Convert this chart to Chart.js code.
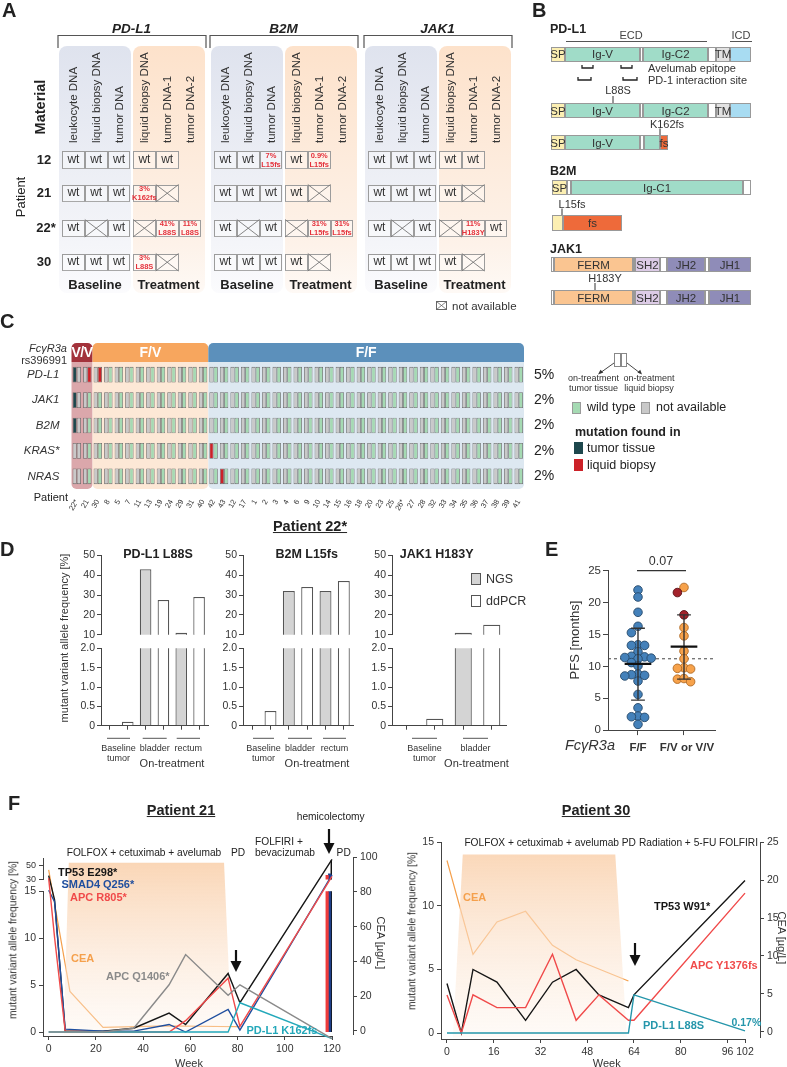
<!DOCTYPE html>
<html><head><meta charset="utf-8">
<script src="https://cdn.jsdelivr.net/npm/chart.js@4.4.1/dist/chart.umd.min.js"></script>
<style>
html,body{margin:0;padding:0;background:#fff;}
#root{position:relative;width:787px;height:1067px;overflow:hidden;font-family:"Liberation Sans",Arial,Helvetica,sans-serif;color:#222;background:#fff;}
.t{position:absolute;white-space:nowrap;line-height:1.1;z-index:4;}
canvas{position:absolute;z-index:2;}
.bx{position:absolute;box-sizing:border-box;}
svg.ov{position:absolute;left:0;top:0;z-index:3;pointer-events:none;}
</style></head><body><div id="root"></div>
<script>
// ================= DATA =================
// Panel A
const aGenes = ['PD-L1','B2M','JAK1'];
const aPatients = ['12','21','22*','30'];
const aBaselineCols = ['leukocyte DNA','liquid biopsy DNA','tumor DNA'];
const aTreatmentCols = ['liquid biopsy DNA','tumor DNA-1','tumor DNA-2'];
// 'wt' wild type, 'x' not available, '' no sample, 'pct|mutation'
const aPDL1 = [['wt','wt','wt','wt','wt',''],['wt','wt','wt','3%|K162fs','x',''],['wt','x','wt','x','41%|L88S','11%|L88S'],['wt','wt','wt','3%|L88S','x','']];
const aB2M  = [['wt','wt','7%|L15fs','wt','0.9%|L15fs',''],['wt','wt','wt','wt','x',''],['wt','x','wt','x','31%|L15fs','31%|L15fs'],['wt','wt','wt','wt','x','']];
const aJAK1 = [['wt','wt','wt','wt','wt',''],['wt','wt','wt','wt','x',''],['wt','x','wt','x','11%|H183Y','wt'],['wt','wt','wt','wt','x','']];

// Panel C
const cPatients = ['22*','21','30','8','5','7','11','13','19','24','29','31','40','42','43','12','17','1','2','3','4','6','9','10','14','15','16','18','20','23','25','26*','27','28','32','33','34','35','36','37','38','39','41'];
const cGenotypes = ['V/V','F/V','F/F'];
const cGenotypeCounts = [2, 11, 30];
const cGenes = ['PD-L1','JAK1','B2M','KRAS*','NRAS'];
const cFreq = ['5%','2%','2%','2%','2%'];
// w = wild type, n = not available, t = mutation in tumor tissue, l = mutation in liquid biopsy
const cTissue = [
 't' + 'n'.repeat(42),
 't' + 'n'.repeat(42),
 't' + 'n'.repeat(42),
 'n'.repeat(13) + 'l' + 'n'.repeat(29),
 'n'.repeat(14) + 'l' + 'n'.repeat(28)];
const cLiquid = [
 'nll' + 'w'.repeat(40),
 'n' + 'w'.repeat(42),
 'n' + 'w'.repeat(42),
 'n' + 'w'.repeat(42),
 'n' + 'w'.repeat(42)];

// Panel D
const dCats3 = ['Baseline tumor','bladder','rectum'];
const dCats2 = ['Baseline tumor','bladder'];
const dPDL1NGS = [0, 43, 11],   dPDL1ddPCR = [0.1, 27.5, 29];
const dB2MNGS  = [0, 32, 32],   dB2MddPCR  = [0.38, 34, 37];
const dJAK1NGS = [0, 11],       dJAK1ddPCR = [0.18, 15];

// Panel E (PFS, months)
const eFF = [22.0,20.9,18.5,16.3,15.3,13.4,13.3,13.3,12.3,11.6,11.5,11.4,11.3,11.2,10.6,10.1,8.8,8.7,8.6,8.5,7.7,5.6,3.5,2.2,2.1,2.0,0.9];
const eFV = [22.4,16.1,14.8,12.4,11.2,9.8,9.6,9.7,8.0,8.1,7.6];
const eVV = [21.6,18.1];
const eMean = [10.4,13.1], eSDlow = [4.7,8.0], eSDhigh = [16.0,18.1];
const eRefLine = 11.2;

// Panel F – Patient 21
const p21Weeks   = [0, 2.5, 7, 23, 36, 51, 58, 76, 81, 120];
const p21TP53    = [37, 14, 0.1, 0.1, 0.4, 2.0, 0.8, 6.2, 3.1, 57];
const p21SMAD4   = [15, 13.8, 0.3, 0.1, 0.1, 0.8, 0.0, 2.4, 0.2, 38];
const p21APCR805 = [34, 10, 0.1, 0.0, 0.0, 0.0, 1.2, 5.7, 0.6, 36];
const p21APCQ1406= [0, 0, 0, 0, 0.4, 5.0, 8.2, 3.9, 5.0, -0.7];
const p21PDL1    = [0, 0, 0, 0, 0, 0, 0, 0, 3.1, -0.7];
const p21TissueWeek = 119, p21TissueVAF = [36, 38, 57]; // APC R805*, SMAD4, TP53
const p21CEAWeeks = [0, 9, 23, 50, 81];
const p21CEA      = [92.8, 22.7, 1.9, 2.8, 2.3];
const p21TreatWeeks = [6.3, 8.5, 74.2, 77.4];
// Panel F – Patient 30
const p30Weeks = [0, 4.9, 8.9, 17.1, 26.9, 36.1, 44.2, 52, 62.1, 64, 102];
const p30TP53  = [3.9, 0, 5.0, 4.0, 1.0, 4.0, 5.0, 3.0, 2.0, 3.0, 12.0];
const p30APC   = [3.0, 0, 3.0, 2.0, 2.0, 6.2, 1.0, 3.0, 1.0, 1.0, 11.0];
const p30PDL1  = [0, 0, 0, 0, 0, 0, 0, 0, 0, 3.0, 0.17];
const p30CEAWeeks = [0, 8.9, 17.1, 26.9, 36.1, 44.2, 62.1];
const p30CEA      = [22.6, 10.2, 14.5, 15.9, 11.4, 9.5, 6.7];
const p30TreatWeeks = [2.0, 5.4, 57.6, 61.6];

// ================= HELPERS =================
const root = document.getElementById('root');
Chart.defaults.font.family = '"Liberation Sans", Arial, sans-serif';
Chart.defaults.color = '#333';
// piecewise (broken) value axis for Patient 21: [value from, value to, fraction from, fraction to]
const P21_PIECES = [[-0.42,15,0,0.8140],[15,30,0.8140,0.8642],[30,60,0.8642,1]];
class BrokenScale extends Chart.LinearScale {
  getPixelForValue(v){ if(v===null||v===undefined||isNaN(v)) return NaN;
    let p=P21_PIECES[0]; for(const q of P21_PIECES){ if(v>=q[0]) p=q; }
    const f=p[2]+(v-p[0])/(p[1]-p[0])*(p[3]-p[2]); return this.bottom-f*(this.bottom-this.top); }
  getValueForPixel(px){ const f=(this.bottom-px)/(this.bottom-this.top);
    let p=P21_PIECES[0]; for(const q of P21_PIECES){ if(f>=q[2]) p=q; }
    return p[0]+(f-p[2])/(p[3]-p[2])*(p[1]-p[0]); }
}
BrokenScale.id='broken'; BrokenScale.defaults=Chart.LinearScale.defaults;
Chart.register(BrokenScale);

const NS = 'http://www.w3.org/2000/svg';
const svg = document.createElementNS(NS,'svg');
svg.setAttribute('width',787); svg.setAttribute('height',1067); svg.setAttribute('class','ov');
root.appendChild(svg);
function S(tag, at){ const e=document.createElementNS(NS,tag); for(const k in at) e.setAttribute(k,at[k]); svg.appendChild(e); return e; }
function ln(x1,y1,x2,y2,c,w,extra){ return S('line',Object.assign({x1,y1,x2,y2,stroke:c||'#444','stroke-width':w||1},extra||{})); }
function T(s,x,y,o){ o=o||{}; const d=document.createElement('div'); d.className='t';
  if(o.html) d.innerHTML=s; else d.textContent=s;
  d.style.left=x+'px'; d.style.top=y+'px'; d.style.fontSize=(o.size||11)+'px';
  if(o.bold) d.style.fontWeight='bold'; if(o.italic) d.style.fontStyle='italic';
  d.style.color=o.color||'#222'; if(o.family) d.style.fontFamily=o.family;
  if(o.u) d.style.textDecoration='underline'; if(o.lh) d.style.lineHeight=o.lh;
  if(o.center) d.style.textAlign='center'; if(o.ls) d.style.letterSpacing=o.ls;
  const a=o.a||'c'; const tx=a==='l'?'0':a==='r'?'-100%':'-50%';
  d.style.transform=`translate(${tx},-50%)`+(o.rot?` rotate(${o.rot}deg)`:'');
  root.appendChild(d); return d; }
function Tup(s,x,yBottom,o){ o=o||{}; const d=document.createElement('div'); d.className='t'; d.textContent=s;
  d.style.left=x+'px'; d.style.top=yBottom+'px'; d.style.fontSize=(o.size||11)+'px'; d.style.color=o.color||'#333';
  d.style.transformOrigin='0 0'; d.style.transform='rotate(-90deg) translateY(-50%)'; root.appendChild(d); return d; }
function box(x,y,w,h,st){ const d=document.createElement('div'); d.className='bx';
  d.style.cssText+=`left:${x}px;top:${y}px;width:${w}px;height:${h}px;`+(st||''); root.appendChild(d); return d; }
function arrowDown(x,y1,y2){ ln(x,y1,x,y2-8,'#111',2.2); S('polygon',{points:`${x-5.5},${y2-11} ${x+5.5},${y2-11} ${x},${y2}`,fill:'#111'}); }

function makeChart(L,T0,R,B,m,config){
  const x0=L-m.l, y0=T0-m.t, w=Math.round(R-L+m.l+m.r), h=Math.round(B-T0+m.t+m.b);
  const cv=document.createElement('canvas'); cv.width=w; cv.height=h;
  cv.style.left=x0+'px'; cv.style.top=y0+'px'; cv.style.width=w+'px'; cv.style.height=h+'px';
  if(m.z) cv.style.zIndex=m.z;
  root.appendChild(cv);
  const sc=config.options.scales; const used={left:false,right:false,bottom:false};
  for(const k in sc){ const s=sc[k]; if(s.display===false) continue;
    const isX=(s.axis||k[0])==='x'; const pos=s.position||(isX?'bottom':'left'); used[pos]=true;
    if(pos==='left') s.afterFit=q=>{q.width=m.l;};
    if(pos==='right') s.afterFit=q=>{q.width=m.r;};
    if(pos==='bottom') s.afterFit=q=>{q.height=m.b;};
  }
  config.options.layout={padding:{left:used.left?0:m.l,right:used.right?0:m.r,top:m.t,bottom:used.bottom?0:m.b}};
  config.options.responsive=false; config.options.animation=false; config.options.devicePixelRatio=1;
  config.options.maintainAspectRatio=false;
  config.options.plugins=Object.assign({legend:{display:false},tooltip:{enabled:false}},config.options.plugins||{});
  return new Chart(cv,config);
}
const tk = arr => (s=>{ s.ticks = arr.map(v=>({value:v})); });
const axGrid = (len)=>({display:true,drawOnChartArea:false,drawTicks:true,tickLength:len||4,color:'#444',lineWidth:1,offset:false});
const axBorder = {display:true,color:'#444',width:1};
const GAP = {x:null,y:null};

// ================= PANEL A =================
T('A',2,10,{size:20,bold:true,a:'l'});
const aGroupX=[62,214,368], aCW=22.8, aRowY=[151,184.5,219.5,253.5], aRowH=17.5;
const aData=[aPDL1,aB2M,aJAK1];
aGenes.forEach((g,gi)=>{
  const gx=aGroupX[gi];
  box(gx-3,46,72,247,'border-radius:8px;background:linear-gradient(#dfe3ee,#f4f5f9 80%,#fbfbfd);z-index:0;');
  box(gx+71,46,71.5,247,'border-radius:8px;background:linear-gradient(#fde2cb,#fdf2e9 80%,#fef9f5);z-index:0;');
  T(g,gx+69.5,29,{size:13.5,bold:true,italic:true});
  S('path',{d:`M${gx-4},48 V35.5 H${gx+144} V48`,fill:'none',stroke:'#555','stroke-width':1.2});
  aBaselineCols.forEach((c,i)=>Tup(c,gx+aCW*(i+0.5),143,{size:11.5}));
  aTreatmentCols.forEach((c,i)=>Tup(c,gx+71+aCW*(i+0.5),143,{size:11.5}));
  T('Baseline',gx+33,285,{size:13,bold:true});
  T('Treatment',gx+106.5,285,{size:13,bold:true});
  aData[gi].forEach((row,ri)=>{
    row.forEach((code,ci)=>{
      if(code==='') return;
      const x=ci<3?gx+ci*aCW:gx+71+(ci-3)*aCW, y=aRowY[ri];
      box(x,y,aCW,aRowH,'border:1px solid #9c9c9c;border-bottom:1.5px solid #a8a8a8;background:rgba(255,255,255,0.35);z-index:1;');
      if(code==='wt') T('wt',x+aCW/2,y+aRowH/2,{size:12,color:'#333'});
      else if(code==='x'){ ln(x,y,x+aCW,y+aRowH,'#777',0.9); ln(x,y+aRowH,x+aCW,y,'#777',0.9); }
      else { const [p,mu]=code.split('|'); T(p,x+aCW/2,y+4.5,{size:7.5,bold:true,color:'#e4313b'}); T(mu,x+aCW/2,y+aRowH-4,{size:7.5,bold:true,color:'#e4313b'}); }
    });
  });
});
T('Material',41,107,{size:14.5,bold:true,rot:-90});
T('Patient',21,197,{size:13,rot:-90});
aPatients.forEach((p,i)=>T(p,p.length>2?46:44,aRowY[i]+aRowH/2,{size:13,bold:true}));
box(436,301,11,9,'border:1px solid #666;z-index:1;'); ln(436.5,301.5,446.5,309.5,'#666',0.8); ln(436.5,309.5,446.5,301.5,'#666',0.8);
T('not available',452,305.5,{size:11.5,a:'l',color:'#333'});

// ================= PANEL B =================
T('B',532,10,{size:20,bold:true,a:'l'});
const narrow='"Liberation Sans Narrow","Arial Narrow","Liberation Sans",sans-serif';
function dom(y,h,segs){ segs.forEach(s=>{ box(s[0],y,s[1]-s[0],h,`background:${s[2]};border:1px solid #999;z-index:1;`); if(s[3]) T(s[3],(s[0]+s[1])/2,y+h/2,{size:11.5,family:narrow,color:'#333'}); }); }
const sp='#fcefb2', ig='#a0dcc8', fs='#ee6a3a';
T('PD-L1',550,30,{size:12.5,bold:true,a:'l'});
T('ECD',631,35,{size:11,family:narrow,color:'#444'}); ln(566,41.5,707,41.5,'#555',1);
T('ICD',741,35,{size:11,family:narrow,color:'#444'}); ln(730,41.5,752,41.5,'#555',1);
const pdl1Full=[[551,565,sp,'SP'],[565,640,ig,'Ig-V'],[640,643,'#fff',''],[643,708,ig,'Ig-C2'],[708,716,'#fff',''],[716,730,'#e2e2e2','TM'],[730,751,'#a8dcf2','']];
dom(46.7,15,pdl1Full);
[[582,593,68],[621,632,68],[578,591,80],[623,637,80]].forEach(b=>S('path',{d:`M${b[0]},${b[2]-3} V${b[2]} H${b[1]} V${b[2]-3}`,fill:'none',stroke:'#222','stroke-width':1.3}));
T('Avelumab epitope',648,68,{size:11,family:narrow,a:'l',color:'#333'});
T('PD-1 interaction site',648,80,{size:11,family:narrow,a:'l',color:'#333'});
T('L88S',618,90,{size:11,family:narrow,color:'#333'}); ln(613,96,613,103,'#333',1);
dom(103,15,pdl1Full);
T('K162fs',667,124,{size:11,family:narrow,color:'#333'}); ln(660,128.5,660,135,'#333',1);
dom(135,15,[[551,565,sp,'SP'],[565,640,ig,'Ig-V'],[640,644,'#fff',''],[644,660,ig,''],[660,668,fs,'fs']]);
T('B2M',550,172,{size:12.5,bold:true,a:'l'});
dom(180,15,[[552,567,sp,'SP'],[567,571,'#fff',''],[571,743,ig,'Ig-C1'],[743,751,'#fff','']]);
T('L15fs',572,204,{size:11,family:narrow,color:'#333'}); ln(562,208.5,562,215,'#333',1);
dom(215,16,[[552,563,sp,''],[563,622,fs,'fs']]);
T('JAK1',550,250,{size:12.5,bold:true,a:'l'});
const jak=[[551,554,'#fff',''],[554,633,'#fac591','FERM'],[633,635,'#fff',''],[635,660,'#dccbe6','SH2'],[660,667,'#fff',''],[667,705,'#8f8cb8','JH2'],[705,709,'#fff',''],[709,751,'#8f8cb8','JH1']];
dom(257,15,jak);
T('H183Y',605,278,{size:11,family:narrow,color:'#333'}); ln(595,283,595,290,'#333',1);
dom(290,15,jak);

// ================= PANEL C =================
T('C',0,321,{size:20,bold:true,a:'l'});
const cCol={w:'#a5dab3',n:'#c9c9c9',t:'#1d474d',l:'#cc2128'};
const cGroupCol=['#a3323b','#f7a65e','#5c90bb'], cBandCol=['#dba7ab','#fde8d6','#dde8f1'];
const cBandPlugin={id:'bands',beforeDatasetsDraw(ch){
  const x=ch.scales.x, ca=ch.chartArea, c=ch.ctx; const half=(x.getPixelForValue(1)-x.getPixelForValue(0))/2;
  let s=0; cGenotypeCounts.forEach((n,gi)=>{ const l=x.getPixelForValue(s)-half, r=x.getPixelForValue(s+n-1)+half;
    c.save(); c.fillStyle=cBandCol[gi]; c.beginPath(); c.roundRect(l,ca.top,r-l,ca.bottom-ca.top,[0,0,5,5]); c.fill();
    c.fillStyle=cGroupCol[gi]; c.beginPath(); c.roundRect(l,ca.top-19,r-l,19,[5,5,0,0]); c.fill(); c.restore(); s+=n; });
}};
const cDatasets=[];
cGenes.forEach((g,r)=>{
  [['tissue',cTissue[r]],['liquid',cLiquid[r]]].forEach(([stack,str])=>{
    cDatasets.push({type:'bar',stack,data:cPatients.map(()=>[r-0.31,r+0.31]),
      backgroundColor:str.split('').map(ch=>cCol[ch]),borderColor:'#6a6a6a',borderWidth:0.8,borderSkipped:false,
      categoryPercentage:0.8,barPercentage:1,clip:0});
  });
});
const cChart=makeChart(71.5,361.7,523.5,488.7,{l:71.5,r:45,t:22,b:30},{type:'bar',data:{labels:cPatients,datasets:cDatasets},
  options:{scales:{
    x:{stacked:true,grid:{display:false},border:{display:false},ticks:{font:{size:7.5},color:'#333',minRotation:60,maxRotation:60,autoSkip:false,padding:1}},
    y:{stacked:false,min:-0.5,max:4.5,reverse:true,afterBuildTicks:tk([0,1,2,3,4]),grid:{display:false},border:{display:false},
       ticks:{callback:v=>cGenes[v],font:{size:11.5,style:'italic'},color:'#333',padding:4}},
    y2:{axis:'y',position:'right',min:-0.5,max:4.5,reverse:true,afterBuildTicks:tk([0,1,2,3,4]),grid:{display:false},border:{display:false},
       ticks:{callback:v=>cFreq[v],font:{size:14},color:'#222',padding:2}}
  }},plugins:[cBandPlugin]});
(function(){ const x=cChart.scales.x; const half=(x.getPixelForValue(1)-x.getPixelForValue(0))/2; let s=0;
  cGenotypeCounts.forEach((n,gi)=>{ const l=x.getPixelForValue(s)-half, r=x.getPixelForValue(s+n-1)+half;
    T(cGenotypes[gi],(l+r)/2,352.5,{size:14,bold:true,color:'#fff',ls:gi===0?'-0.5px':'0'}); s+=n; }); })();
T('Fc\u03b3R3a',67,348,{size:11,italic:true,a:'r',color:'#333'});
T('rs396991',67,360,{size:11,a:'r',color:'#333'});
T('Patient',68,497,{size:11,a:'r',color:'#222'});
// legend
box(614,353,6.5,14,'border:1px solid #888;background:#fff;z-index:1;'); box(620.5,353,6.5,14,'border:1px solid #888;background:#fff;z-index:1;');
ln(614,363,600,373,'#333',0.9); S('polygon',{points:'598,374.5 600.5,369.8 603.3,372.6',fill:'#333'});
ln(627,363,640,373,'#333',0.9); S('polygon',{points:'642,374.5 637.5,372.6 640.2,369.8',fill:'#333'});
T('on-treatment',593.5,379,{size:9,family:narrow,color:'#333'}); T('tumor tissue',593.5,389,{size:9,family:narrow,color:'#333'});
T('on-treatment',649,379,{size:9,family:narrow,color:'#333'}); T('liquid biopsy',649,389,{size:9,family:narrow,color:'#333'});
box(572,402,9,12,`background:${cCol.w};border:1px solid #9a9a9a;`); T('wild type',587,408,{size:12.5,a:'l',color:'#222'});
box(641,402,9,12,`background:${cCol.n};border:1px solid #9a9a9a;`); T('not available',656,408,{size:12.5,a:'l',color:'#222'});
T('mutation found in',575,433,{size:12.5,bold:true,a:'l'});
box(574,442,9,12,`background:${cCol.t};`); T('tumor tissue',587,449,{size:12.5,a:'l'});
box(574,459,9,12,`background:${cCol.l};`); T('liquid biopsy',587,465.5,{size:12.5,a:'l'});

// ================= PANEL D =================
T('D',0,549,{size:20,bold:true,a:'l'});
T('Patient 22*',310,527,{size:14.5,bold:true,u:true});
function dPanel(cats,ngs,dd,L,R,bp){
  const labels=[],nD=[],dD=[]; cats.forEach((c,i)=>{labels.push(c,c); nD.push(ngs[i],null); dD.push(null,dd[i]);});
  const ds=()=>[{label:'NGS',data:nD.slice(),backgroundColor:'#d4d4d4',borderColor:'#555',borderWidth:1.2,grouped:false,barPercentage:bp,categoryPercentage:1,clip:0},
                {label:'ddPCR',data:dD.slice(),backgroundColor:'#fff',borderColor:'#555',borderWidth:1.2,grouped:false,barPercentage:bp,categoryPercentage:1,clip:0}];
  const yt={font:{size:10.5},color:'#333',padding:2};
  makeChart(L,555,R,639,{l:24,r:4,t:8,b:4},{type:'bar',data:{labels,datasets:ds()},options:{scales:{
    x:{display:false},
    y:{min:10,max:50,afterBuildTicks:tk([10,20,30,40,50]),grid:axGrid(4),border:axBorder,ticks:yt}}}});
  makeChart(L,648,R,728,{l:24,r:4,t:8,b:6},{type:'bar',data:{labels,datasets:ds()},options:{scales:{
    x:{grid:axGrid(4),border:axBorder,ticks:{callback:()=>'' ,autoSkip:false}},
    y:{min:0,max:2,afterBuildTicks:tk([0,0.5,1,1.5,2]),grid:axGrid(4),border:axBorder,ticks:Object.assign({callback:v=>v===0?'0':v.toFixed(1)},yt)}}}});
}
dPanel(dCats3,dPDL1NGS,dPDL1ddPCR,100.7,208,0.65);
dPanel(dCats3,dB2MNGS,dB2MddPCR,243,353,0.65);
dPanel(dCats2,dJAK1NGS,dJAK1ddPCR,392,506,0.6);
T('PD-L1 L88S',158,555,{size:12.5,bold:true});
T('B2M L15fs',306.7,555,{size:12.5,bold:true});
T('JAK1 H183Y',436.7,555,{size:12.5,bold:true});
box(471,573,9.5,12,'background:#d4d4d4;border:1px solid #555;'); T('NGS',486,579.5,{size:12.5,a:'l',color:'#333'});
box(471,595,9.5,12,'background:#fff;border:1px solid #555;'); T('ddPCR',486,601.5,{size:12.5,a:'l',color:'#333'});
T('mutant variant allele frequency [%]',64,638,{size:11,rot:-90,color:'#333'});
function dLab(items,onT){ items.forEach(it=>{ ln(it[0],738.3,it[1],738.3,'#555',1); T(it[2],(it[0]+it[1])/2,it[3]||748.3,{size:9,html:true,center:true,lh:'10px',color:'#333'}); });
  T('On-treatment',onT,763,{size:11,color:'#333'}); }
dLab([[107,130,'Baseline<br>tumor',753],[142.7,166.7,'bladder'],[176.7,200,'rectum']],172);
dLab([[253,274,'Baseline<br>tumor',753],[288,312,'bladder'],[323,346,'rectum']],317);
dLab([[412,437,'Baseline<br>tumor',753],[463,488,'bladder']],476.5);

// ================= PANEL E =================
T('E',545,549,{size:20,bold:true,a:'l'});
function swarmX(vals,center,pxY,pxX,step,minD,maxK){
  const idx=vals.map((v,i)=>i).sort((a,b)=>vals[b]-vals[a]); const placed=[],res=new Array(vals.length);
  for(const i of idx){ const py=vals[i]*pxY; let best=0,bestD=-1;
    const cands=[0]; for(let k=1;k<=maxK;k++) cands.push(-k*step,k*step);
    for(const c of cands){ const d=placed.length?Math.min(...placed.map(p=>Math.hypot(p.x-c,p.y-py))):Infinity;
      if(d>=minD){best=c;bestD=d;break;} if(d>bestD){bestD=d;best=c;} }
    placed.push({x:best,y:py}); res[i]=center+best/pxX; }
  return res; }
const eFVall=eFV.concat(eVV);
const ffX=swarmX(eFF,1,6.42,46,6.6,6.6,2), fvX=swarmX(eFVall,2,6.42,46,6.6,6.6,2);
const eXmin=0.348, eXmax=2.674;
makeChart(608,570,715,730.7,{l:30,r:10,t:8,b:8},{type:'scatter',data:{datasets:[
  {data:eFF.map((v,i)=>({x:ffX[i],y:v})),pointRadius:4.3,pointBackgroundColor:'#4481ba',pointBorderColor:'#27496a',pointBorderWidth:0.9,order:3,clip:false},
  {data:eFVall.map((v,i)=>({x:fvX[i],y:v})),pointRadius:4.3,pointBackgroundColor:eFVall.map((v,i)=>i<eFV.length?'#f7a24b':'#a3222b'),
   pointBorderColor:eFVall.map((v,i)=>i<eFV.length?'#b06a25':'#5a1014'),pointBorderWidth:0.9,order:3,clip:false},
  {type:'line',data:[{x:eXmin,y:eRefLine},{x:eXmax,y:eRefLine}],borderColor:'#444',borderWidth:1,borderDash:[3,3],pointRadius:0,order:4},
  {type:'line',data:[{x:1,y:eSDlow[0]},{x:1,y:eSDhigh[0]},GAP,{x:2,y:eSDlow[1]},{x:2,y:eSDhigh[1]}],borderColor:'#333',borderWidth:1.4,pointRadius:0,spanGaps:false,order:1},
  {type:'line',data:[{x:0.85,y:eSDhigh[0]},{x:1.15,y:eSDhigh[0]},GAP,{x:0.85,y:eSDlow[0]},{x:1.15,y:eSDlow[0]},GAP,{x:1.85,y:eSDhigh[1]},{x:2.15,y:eSDhigh[1]},GAP,{x:1.85,y:eSDlow[1]},{x:2.15,y:eSDlow[1]}],borderColor:'#333',borderWidth:1.4,pointRadius:0,spanGaps:false,order:1},
  {type:'line',data:[{x:0.71,y:eMean[0]},{x:1.29,y:eMean[0]},GAP,{x:1.71,y:eMean[1]},{x:2.29,y:eMean[1]}],borderColor:'#111',borderWidth:2.2,pointRadius:0,spanGaps:false,order:0}
]},options:{scales:{
  x:{type:'linear',offset:false,min:eXmin,max:eXmax,afterBuildTicks:tk([1,2]),grid:axGrid(5),border:axBorder,ticks:{callback:()=>'',autoSkip:false}},
  y:{min:0,max:25,afterBuildTicks:tk([0,5,10,15,20,25]),grid:axGrid(5),border:axBorder,ticks:{font:{size:11.5},color:'#333',padding:2}}}}});
ln(637,570.7,686,570.7,'#333',1.2);
T('0.07',661,562,{size:12.5,color:'#333'});
T('PFS [months]',575,640,{size:13,rot:-90,color:'#333'});
T('F/F',638,747,{size:11.5,bold:true,color:'#333'});
T('F/V or V/V',687,747,{size:11.5,bold:true,color:'#333'});
T('Fc\u03b3R3a',590,746,{size:14.5,italic:true,color:'#333'});

// ================= PANEL F =================
T('F',8,803,{size:20,bold:true,a:'l'});
T('Patient 21',181,811,{size:14.5,bold:true,u:true});
T('Patient 30',596,811,{size:14.5,bold:true,u:true});
function gradFill(ctx){ const ch=ctx.chart, ca=ch.chartArea; if(!ca) return 'rgba(250,210,175,0.6)';
  const g=ch.ctx.createLinearGradient(0,ca.top,0,ca.bottom); g.addColorStop(0,'rgba(249,205,166,0.85)'); g.addColorStop(1,'rgba(253,242,233,0.35)'); return g; }
const pts=(xs,ys)=>xs.map((x,i)=>({x,y:ys[i]}));
const lineDs=(xs,ys,color,clip,w)=>({type:'line',data:pts(xs,ys),borderColor:color,borderWidth:w||1.4,pointRadius:0,tension:0,clip});
const fTick={font:{size:10.5},color:'#333',padding:3};
// Patient 21 overlay (CEA + treatment period)
const p21Cmin=-2.27, p21Xmax2=128.76;
makeChart(42.7,855.7,352.7,1035.7,{l:32,r:30,t:8,b:8,z:1},{type:'line',data:{datasets:[
  {data:pts(p21TreatWeeks,[p21Cmin,96.9,96.9,p21Cmin]),borderWidth:0,pointRadius:0,fill:'start',backgroundColor:gradFill},
  lineDs(p21CEAWeeks,p21CEA,'#f5a04c',0,1.2)]},
 options:{scales:{x:{type:'linear',offset:false,display:false,min:-2.4,max:p21Xmax2},
  y:{position:'right',min:p21Cmin,max:100,afterBuildTicks:tk([0,20,40,60,80,100]),grid:axGrid(4),border:axBorder,ticks:fTick}}}});
const p21Series=[[p21APCQ1406,'#8a8a8a'],[p21PDL1,'#23a8ba'],[p21APCR805,'#f04a4a'],[p21SMAD4,'#1f4e9e'],[p21TP53,'#161616']];
const p21Bars=()=>[['#ee3b3b',p21TissueVAF[0]],['#1e3f8a',p21TissueVAF[1]],['#111',p21TissueVAF[2]]].map(b=>({type:'bar',data:[{x:p21TissueWeek,y:b[1]}],backgroundColor:b[0],barThickness:2.5,clip:0}));
// lower axis segment (0-15) with tissue bars
makeChart(42.7,890,332,1035.7,{l:32,r:14,t:8,b:30},{type:'line',data:{datasets:p21Bars()},
 options:{scales:{x:{type:'linear',offset:false,min:-2.4,max:120,afterBuildTicks:tk([0,20,40,60,80,100,120]),grid:axGrid(4),border:axBorder,ticks:Object.assign({autoSkip:false,maxRotation:0},fTick)},
  y:{min:-0.42,max:15,afterBuildTicks:tk([0,5,10,15]),grid:axGrid(4),border:axBorder,ticks:fTick}}}});
// upper axis segment (30-60) with tissue bars
makeChart(42.7,856.7,332,881,{l:32,r:14,t:7,b:7},{type:'line',data:{datasets:p21Bars()},
 options:{scales:{x:{type:'linear',offset:false,display:false,min:-2.4,max:120},
  y:{min:30,max:60,afterBuildTicks:tk([30,40,50,60]),grid:axGrid(4),border:axBorder,ticks:{font:{size:9},color:'#333',padding:3}}}}});
// variant allele frequency lines on the broken axis
makeChart(42.7,856.7,332,1035.7,{l:32,r:14,t:8,b:8,z:3},{type:'line',data:{datasets:
  p21Series.map(s=>lineDs(p21Weeks,s[0],s[1],{left:6,top:6,right:6,bottom:10}))},
 options:{scales:{x:{type:'linear',offset:false,display:false,min:-2.4,max:120},
  y:{type:'broken',display:false,min:-0.42,max:60}}}});
const an={size:10.2,color:'#222'};
T('hemicolectomy',330.7,816.7,an);
T('FOLFOX + cetuximab + avelumab',144,852.7,an);
T('PD',238,852.7,an);
T('FOLFIRI +',255,841.7,Object.assign({a:'l'},an));
T('bevacizumab',255,852.7,Object.assign({a:'l'},an));
T('PD',343.7,852.7,an);
const lb=(c)=>({size:11,bold:true,a:'l',color:c});
T('TP53 E298*',58,872.3,lb('#161616'));
T('SMAD4 Q256*',61.5,884,lb('#1f4e9e'));
T('APC R805*',70,896.7,lb('#f04a4a'));
T('CEA',71,957.7,lb('#f5a04c'));
T('APC Q1406*',106,976,lb('#8a8a8a'));
T('PD-L1 K162fs',246.5,1030,lb('#23a8ba'));
T('mutant variant allele frequency [%]',13,940,{size:10.3,rot:-90,color:'#333'});
T('CEA  [\u00b5g/L]',381,943,{size:11,rot:90,color:'#333'});
T('Week',189,1062.7,{size:11,color:'#333'});
arrowDown(236,950,972); arrowDown(329,829,854);
// Patient 30
const p30Cmin=-0.78, p30Xmax2=107.13;
makeChart(440.7,840.5,760,1038,{l:30,r:24,t:8,b:8,z:1},{type:'line',data:{datasets:[
  {data:pts(p30TreatWeeks,[p30Cmin,23.4,23.4,p30Cmin]),borderWidth:0,pointRadius:0,fill:'start',backgroundColor:gradFill},
  lineDs(p30CEAWeeks,p30CEA,'#f5a04c',0,1.2)]},
 options:{scales:{x:{type:'linear',offset:false,display:false,min:-2.05,max:p30Xmax2},
  y:{position:'right',min:p30Cmin,max:25,afterBuildTicks:tk([0,5,10,15,20,25]),grid:axGrid(4),border:axBorder,ticks:fTick}}}});
makeChart(440.7,840.5,745,1038,{l:30,r:14,t:8,b:30},{type:'line',data:{datasets:[
  lineDs(p30Weeks,p30PDL1,'#2596ab',{left:6,top:6,right:6,bottom:6}),
  lineDs(p30Weeks,p30APC,'#f04a4a',{left:6,top:6,right:6,bottom:6}),
  lineDs(p30Weeks,p30TP53,'#161616',{left:6,top:6,right:6,bottom:6})]},
 options:{scales:{x:{type:'linear',offset:false,min:-2.05,max:102,afterBuildTicks:tk([0,16,32,48,64,80,96,102]),grid:axGrid(4),border:axBorder,ticks:Object.assign({autoSkip:false,maxRotation:0},fTick)},
  y:{min:-0.47,max:15,afterBuildTicks:tk([0,5,10,15]),grid:axGrid(4),border:axBorder,ticks:fTick}}}});
T('FOLFOX + cetuximab + avelumab',541.7,843.3,an);
T('PD',628.8,843.3,an);
T('Radiation + 5-FU',639,843.3,Object.assign({a:'l'},an));
T('FOLFIRI',719,843.3,Object.assign({a:'l'},an));
T('CEA',463,896.7,lb('#f5a04c'));
T('TP53 W91*',654,906,lb('#161616'));
T('APC Y1376fs',690,965,lb('#f04a4a'));
T('PD-L1 L88S',643,1025,lb('#2596ab'));
T('0.17%',731.5,1022.7,{size:10.5,bold:true,a:'l',color:'#2596ab'});
T('mutant variant allele frequency [%]',411.7,931,{size:10.3,rot:-90,color:'#333'});
T('CEA  [\u00b5g/L]',782,938,{size:11,rot:90,color:'#333'});
T('Week',606.7,1062.7,{size:11,color:'#333'});
arrowDown(635,943,966);
</script></body></html>
